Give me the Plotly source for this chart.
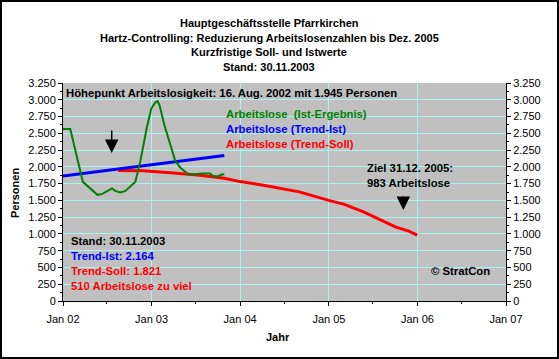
import plotly.graph_objects as go

# ---------------- data ----------------
ist_dates = ["2002-01-01", "2002-01-31", "2002-03-24", "2002-04-09", "2002-05-07", "2002-05-23",
             "2002-06-10", "2002-07-01", "2002-07-22", "2002-08-04", "2002-08-25", "2002-09-14",
             "2002-10-05", "2002-10-26", "2002-11-15", "2002-12-13", "2002-12-31", "2003-01-16",
             "2003-01-26", "2003-02-03", "2003-02-23", "2003-03-19", "2003-04-08", "2003-04-29",
             "2003-05-12", "2003-06-01", "2003-06-29", "2003-07-27", "2003-08-30", "2003-09-13",
             "2003-10-03", "2003-10-17", "2003-10-28"]
ist_values = [2565, 2565, 1776, 1727, 1627, 1583,
              1593, 1638, 1678, 1642, 1618, 1638,
              1702, 1776, 2074, 2595, 2869, 2958,
              2978, 2918, 2620, 2322, 2099, 1990,
              1950, 1891, 1891, 1901, 1901, 1861,
              1861, 1886, 1891]

trend_ist_dates = ["2002-01-01", "2003-10-28"]
trend_ist_values = [1862, 2170]

trend_soll_dates = ["2002-08-16", "2002-11-28", "2003-04-01", "2003-07-19", "2003-10-27",
                    "2004-01-01", "2004-04-06", "2004-09-01", "2004-12-31", "2005-03-03",
                    "2005-05-24", "2005-07-19", "2005-10-02", "2005-11-26", "2005-12-31"]
trend_soll_values = [1945, 1940, 1910, 1876, 1830,
                     1780, 1727, 1627, 1500, 1444,
                     1330, 1231, 1106, 1042, 983]

title_lines = ["Hauptgeschäftsstelle Pfarrkirchen",
               "Hartz-Controlling: Reduzierung Arbeitslosenzahlen bis Dez. 2005",
               "Kurzfristige Soll- und Istwerte",
               "Stand: 30.11.2003"]

x_range = ["2002-01-01", "2007-01-01"]
y_max = 3250
y_step = 250

# ---------------- layout geometry ----------------
W, H = 559, 359
L, R, T, B = 63, 53, 83, 58
PW, PH = W - L - R, H - T - B

def px(x):
    return (x - L) / PW

def py(y):
    return (H - B - y) / PH

FONT = "Liberation Sans, Arial, sans-serif"
GREEN, BLUE, RED = "#008000", "#0000FF", "#FF0000"

fig = go.Figure()
fig.add_trace(go.Scatter(x=trend_soll_dates, y=trend_soll_values, mode="lines",
                         line=dict(color=RED, width=3), hoverinfo="skip"))
fig.add_trace(go.Scatter(x=trend_ist_dates, y=trend_ist_values, mode="lines",
                         line=dict(color=BLUE, width=3), hoverinfo="skip"))
fig.add_trace(go.Scatter(x=ist_dates, y=ist_values, mode="lines",
                         line=dict(color=GREEN, width=2), hoverinfo="skip"))
# invisible trace to bind the right-hand axis
fig.add_trace(go.Scatter(x=trend_ist_dates, y=trend_ist_values, mode="lines", yaxis="y2",
                         line=dict(color="rgba(0,0,0,0)", width=0), hoverinfo="skip"))

yaxis_common = dict(range=[0, y_max], dtick=y_step, tick0=0, tickformat=",.0f",
                    showline=True, linecolor="black", linewidth=1,
                    ticks="outside", ticklen=4, tickcolor="black",
                    minor=dict(dtick=y_step / 2, ticks="outside", ticklen=2, tickcolor="black", showgrid=False),
                    tickfont=dict(family=FONT, size=11, color="black"), zeroline=False, fixedrange=True)

fig.update_layout(
    width=W, height=H,
    margin=dict(l=L, r=R, t=T, b=B, pad=0),
    paper_bgcolor="white", plot_bgcolor="#C0C0C0",
    separators=",.",
    showlegend=False,
    xaxis=dict(type="date", range=x_range, dtick="M12", tick0="2002-01-01", tickformat="%b %y",
               showline=True, linecolor="black", linewidth=1,
               ticks="outside", ticklen=4, tickcolor="black", ticklabelstandoff=4,
               minor=dict(dtick="M6", ticks="outside", ticklen=2, tickcolor="black", showgrid=False),
               showgrid=True, gridcolor="#A8F4F4", gridwidth=1,
               tickfont=dict(family=FONT, size=11, color="black"), zeroline=False, fixedrange=True),
    yaxis=dict(**yaxis_common, showgrid=True, gridcolor="#A8F4F4", gridwidth=1, side="left"),
    yaxis2=dict(**yaxis_common, showgrid=False, overlaying="y", side="right", anchor="x"),
)

ann = []
# title
for i, t in enumerate(title_lines):
    ann.append(dict(text="<b>%s</b>" % t, x=px(269), y=py(23.3 + i * 14.5), xref="paper", yref="paper",
                    xanchor="center", yanchor="middle", showarrow=False,
                    font=dict(family=FONT, size=11, color="black")))
# axis titles
ann.append(dict(text="<b>Personen</b>", x=px(15), y=py(193), xref="paper", yref="paper", textangle=-90,
                xanchor="center", yanchor="middle", showarrow=False,
                font=dict(family=FONT, size=11, color="black")))
ann.append(dict(text="<b>Jahr</b>", x=px(278), y=py(337), xref="paper", yref="paper",
                xanchor="center", yanchor="middle", showarrow=False,
                font=dict(family=FONT, size=11, color="black")))

texts = [
    ("Höhepunkt Arbeitslosigkeit: 16. Aug. 2002 mit 1.945 Personen", 63.5, 93.3, "black"),
    ("Arbeitslose\u00a0 (Ist-Ergebnis)", 224, 113.7, GREEN),
    ("Arbeitslose (Trend-Ist)", 224, 128.7, BLUE),
    ("Arbeitslose (Trend-Soll)", 224, 143.7, RED),
    ("Ziel 31.12. 2005:", 365, 167.7, "black"),
    ("983 Arbeitslose", 365, 182.5, "black"),
    ("Stand: 30.11.2003", 69, 241, "black"),
    ("Trend-Ist: 2.164", 69, 256, BLUE),
    ("Trend-Soll: 1.821", 69, 271, RED),
    ("510 Arbeitslose zu viel", 69, 286, RED),
    ("© StratCon", 429, 271, "black"),
]
for t, x, y, c in texts:
    ann.append(dict(text="<b>%s</b>" % t, x=px(x), y=py(y), xref="paper", yref="paper",
                    xanchor="left", yanchor="middle", showarrow=False,
                    font=dict(family=FONT, size=11.3, color=c)))
# arrows
for x, ytip, ytail in [(111.7, 153, 129), (403.3, 210, 195)]:
    ann.append(dict(text="", x=px(x), y=py(ytip), xref="paper", yref="paper",
                    ax=0, ay=-(ytip - ytail), axref="pixel", ayref="pixel",
                    showarrow=True, arrowhead=2, arrowsize=1.8, arrowwidth=1.5, arrowcolor="black"))
fig.update_layout(annotations=ann)

# figure border
fig.add_shape(type="rect", xref="paper", yref="paper",
              x0=px(1), x1=px(W - 1), y0=py(H - 1), y1=py(1),
              line=dict(color="black", width=2), fillcolor="rgba(0,0,0,0)", layer="above")

fig.write_html("out.html", config={"displayModeBar": False, "staticPlot": True},
               post_script="document.body.style.margin='0';document.body.style.overflow='hidden';")
